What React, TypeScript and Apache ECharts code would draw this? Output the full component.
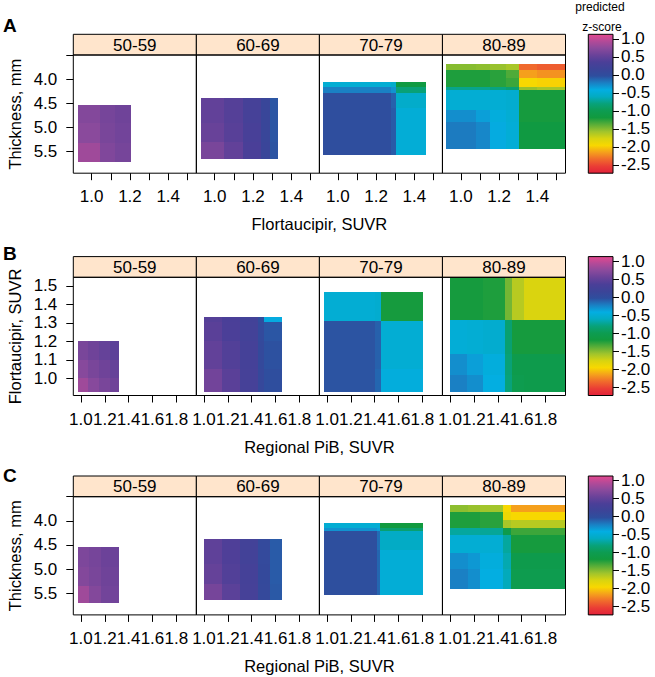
import React, { useEffect, useRef } from "react";
import * as echarts from "echarts";

// ---------- labels ----------
const AGE_GROUPS = ["50-59", "60-69", "70-79", "80-89"];
const ROW_LETTERS = ["A", "B", "C"];
const X_TITLES = ["Flortaucipir, SUVR", "Regional PiB, SUVR", "Regional PiB, SUVR"];
const Y_TITLES = ["Thickness, mm", "Flortaucipir, SUVR", "Thickness, mm"];
const KEY_TITLE = ["predicted", "z-score"];

// ---------- axis ranges & ticks ----------
const TAU_X_RANGE = [0.904, 1.547];
const PIB_RANGE = [0.936, 1.968];
const THICK_RANGE = [3.5, 5.95];
const TAU_Y_RANGE = [0.908, 1.547];
const Z_RANGE = [-2.73, 1.13];

const TAU_X_TICKS = [1.0, 1.1, 1.2, 1.3, 1.4, 1.5];
const TAU_X_LABELS = [1.0, 1.2, 1.4];
const PIB_TICKS = [1.0, 1.2, 1.4, 1.6, 1.8];
const THICK_TICKS = [3.5, 4.0, 4.5, 5.0, 5.5];
const THICK_LABELS = [4.0, 4.5, 5.0, 5.5];
const TAU_Y_TICKS = [1.0, 1.1, 1.2, 1.3, 1.4, 1.5];
const Z_TICKS = [-2.5, -2.0, -1.5, -1.0, -0.5, 0.0, 0.5, 1.0];

const Z_COLORS = [
  "#e2213a", "#ea3d35", "#f06a2c", "#f5a01c", "#f8d800", "#d8d410", "#a0c42c",
  "#5aae38", "#119a3e", "#0d9c52", "#08a27a", "#03abc0", "#03aee2", "#1a80c4",
  "#2e4e9e", "#3c4498", "#4b3f98", "#6a4299", "#8b4a9c", "#b34a98", "#e4488f",
];

// ---------- panel data: cell edges (x, y) and predicted z-score per cell ----------
// Row A: thickness vs flortaucipir
const A1_X = [0.927, 1.043, 1.12, 1.204];
const A1_Y = [4.544, 4.9, 5.33, 5.72];
const A1_Z = [
  [0.70, 0.62, 0.58],
  [0.74, 0.64, 0.60],
  [0.84, 0.68, 0.62],
];
const A2_X = [0.929, 1.05, 1.15, 1.24, 1.29, 1.332];
const A2_Y = [4.39, 4.9, 5.3, 5.65];
const A2_Z = [
  [0.50, 0.42, 0.30, 0.12, -0.06],
  [0.54, 0.44, 0.32, 0.13, -0.06],
  [0.64, 0.50, 0.34, 0.14, -0.05],
];
const A3_X = [0.924, 1.28, 1.306, 1.462];
const A3_Y = [4.06, 4.17, 4.28, 4.6, 5.57];
const A3_Z = [
  [-0.50, -0.55, -1.15],
  [-0.22, -0.30, -0.82],
  [-0.02, -0.10, -0.55],
  [-0.02, -0.08, -0.48],
];
const A4_X = [0.922, 1.08, 1.151, 1.238, 1.302, 1.40, 1.547];
const A4_Y = [3.69, 3.81, 3.98, 4.16, 4.23, 4.64, 4.88, 5.44];
const A4_Z = [
  [-1.50, -1.52, -1.55, -1.60, -2.35, -2.40],
  [-1.22, -1.22, -1.25, -1.35, -2.15, -2.20],
  [-1.22, -1.22, -1.25, -1.30, -1.95, -1.98],
  [-0.75, -0.75, -0.78, -0.85, -1.55, -1.60],
  [-0.50, -0.50, -0.50, -0.52, -1.20, -1.20],
  [-0.28, -0.35, -0.45, -0.50, -1.20, -1.20],
  [-0.20, -0.25, -0.40, -0.48, -1.15, -1.15],
];

// Row B: flortaucipir vs regional PiB
const B1_X = [0.978, 1.06, 1.15, 1.24, 1.321];
const B1_Y = [0.925, 1.0, 1.1, 1.204];
const B1_Z = [
  [0.84, 0.72, 0.64, 0.58],
  [0.72, 0.64, 0.58, 0.52],
  [0.64, 0.58, 0.52, 0.46],
];
const B2_X = [0.999, 1.15, 1.30, 1.45, 1.50, 1.657];
const B2_Y = [0.929, 1.05, 1.2, 1.307, 1.334];
const B2_Z = [
  [0.60, 0.45, 0.30, 0.08, -0.02],
  [0.50, 0.40, 0.28, 0.06, -0.04],
  [0.45, 0.36, 0.26, 0.04, -0.06],
  [0.42, 0.34, 0.24, 0.00, -0.40],
];
const B3_X = [0.976, 1.40, 1.456, 1.805];
const B3_Y = [0.925, 1.05, 1.311, 1.468];
const B3_Z = [
  [-0.05, -0.12, -0.45],
  [-0.05, -0.10, -0.50],
  [-0.50, -0.52, -1.20],
];
const B4_X = [0.999, 1.14, 1.275, 1.459, 1.52, 1.62, 1.968];
const B4_Y = [0.925, 1.02, 1.13, 1.315, 1.547];
const B4_Z = [
  [-0.22, -0.28, -0.42, -0.80, -1.02, -1.05],
  [-0.28, -0.35, -0.45, -0.82, -1.05, -1.05],
  [-0.48, -0.50, -0.52, -0.85, -1.20, -1.20],
  [-1.20, -1.20, -1.22, -1.45, -1.65, -1.78],
];

// Row C: thickness vs regional PiB
const C1_X = [0.978, 1.07, 1.17, 1.321];
const C1_Y = [4.533, 4.95, 5.35, 5.70];
const C1_Z = [
  [0.66, 0.62, 0.56],
  [0.70, 0.64, 0.58],
  [0.84, 0.70, 0.60],
];
const C2_X = [0.999, 1.15, 1.30, 1.45, 1.55, 1.657];
const C2_Y = [4.374, 4.9, 5.3, 5.634];
const C2_Z = [
  [0.48, 0.38, 0.26, 0.05, -0.08],
  [0.52, 0.40, 0.28, 0.06, -0.08],
  [0.62, 0.46, 0.30, 0.07, -0.07],
];
const C3_X = [0.976, 1.42, 1.448, 1.805];
const C3_Y = [4.05, 4.15, 4.22, 4.6, 5.545];
const C3_Z = [
  [-0.50, -0.50, -1.18],
  [-0.30, -0.35, -0.85],
  [-0.03, -0.15, -0.58],
  [-0.03, -0.12, -0.48],
];
const C4_X = [0.999, 1.15, 1.25, 1.445, 1.515, 1.968];
const C4_Y = [3.67, 3.81, 3.98, 4.15, 4.29, 4.67, 5.0, 5.41];
const C4_Z = [
  [-1.52, -1.55, -1.58, -1.95, -2.15],
  [-1.22, -1.22, -1.25, -1.90, -1.95],
  [-1.22, -1.22, -1.25, -1.60, -1.65],
  [-0.70, -0.70, -0.72, -1.05, -1.30],
  [-0.50, -0.50, -0.50, -0.70, -1.20],
  [-0.28, -0.32, -0.45, -0.65, -1.05],
  [-0.22, -0.28, -0.42, -0.62, -1.02],
];

const PANELS = [
  [[A1_X, A1_Y, A1_Z], [A2_X, A2_Y, A2_Z], [A3_X, A3_Y, A3_Z], [A4_X, A4_Y, A4_Z]],
  [[B1_X, B1_Y, B1_Z], [B2_X, B2_Y, B2_Z], [B3_X, B3_Y, B3_Z], [B4_X, B4_Y, B4_Z]],
  [[C1_X, C1_Y, C1_Z], [C2_X, C2_Y, C2_Z], [C3_X, C3_Y, C3_Z], [C4_X, C4_Y, C4_Z]],
];

// ---------- layout ----------
const FONT = "'Liberation Sans', Arial, Helvetica, sans-serif";
const PANEL_LEFT = 73.3;
const PANEL_W = 123.05;
const PANEL_TOPS = [55, 277.3, 496.7];
const PANEL_H = 118.2;
const STRIP_H = 20.7;
const KEY_LEFT = 588.3;
const KEY_W = 24.7;
const LETTER_Y = [25, 253.3, 475];

function cells(xs: number[], ys: number[], zs: number[][]) {
  const out: number[][] = [];
  for (let j = 0; j < ys.length - 1; j++) {
    for (let i = 0; i < xs.length - 1; i++) {
      out.push([xs[i], xs[i + 1], ys[j], ys[j + 1], zs[j][i]]);
    }
  }
  return out;
}

const fmt = (v: number) => Number(v).toFixed(1);

function renderCell(params: any, api: any) {
  const p0 = api.coord([api.value(0), api.value(2)]);
  const p1 = api.coord([api.value(1), api.value(3)]);
  const cs = params.coordSys;
  const gx0 = cs.x, gx1 = cs.x + cs.width, gy0 = cs.y, gy1 = cs.y + cs.height;
  const clampX = (v: number) => Math.round(Math.max(gx0, Math.min(gx1, v)));
  const clampY = (v: number) => Math.round(Math.max(gy0, Math.min(gy1, v)));
  const x0 = clampX(Math.min(p0[0], p1[0]));
  const x1 = clampX(Math.max(p0[0], p1[0]));
  const y0 = clampY(Math.min(p0[1], p1[1]));
  const y1 = clampY(Math.max(p0[1], p1[1]));
  if (x1 <= x0 || y1 <= y0) return null;
  const color = api.visual("color");
  return {
    type: "rect",
    shape: { x: x0, y: y0, width: x1 - x0, height: y1 - y0 },
    style: { fill: color },
  };
}

function renderKey(params: any, api: any) {
  const p0 = api.coord([api.value(0), api.value(2)]);
  const p1 = api.coord([api.value(1), api.value(3)]);
  const stops = Z_COLORS.map((c, i) => ({ offset: i / (Z_COLORS.length - 1), color: c }));
  return {
    type: "rect",
    shape: {
      x: Math.min(p0[0], p1[0]),
      y: Math.min(p0[1], p1[1]),
      width: Math.abs(p1[0] - p0[0]),
      height: Math.abs(p1[1] - p0[1]),
    },
    style: {
      fill: new echarts.graphic.LinearGradient(0, 1, 0, 0, stops),
      stroke: "#000",
      lineWidth: 1,
    },
  };
}

function buildOption() {
  const grids: any[] = [];
  const xAxes: any[] = [];
  const yAxes: any[] = [];
  const series: any[] = [];
  const graphics: any[] = [];
  const heatIdx: number[] = [];

  const xRanges = [TAU_X_RANGE, PIB_RANGE, PIB_RANGE];
  const xTicks = [TAU_X_TICKS, PIB_TICKS, PIB_TICKS];
  const xLabels = [TAU_X_LABELS, PIB_TICKS, PIB_TICKS];
  const yRanges = [THICK_RANGE, TAU_Y_RANGE, THICK_RANGE];
  const yTicks = [THICK_TICKS, TAU_Y_TICKS, THICK_TICKS];
  const yLabels = [THICK_LABELS, TAU_Y_TICKS, THICK_LABELS];
  const yInverse = [true, false, true];

  PANELS.forEach((row, r) => {
    const top = PANEL_TOPS[r];
    row.forEach((p, c) => {
      const gi = grids.length;
      const left = PANEL_LEFT + c * PANEL_W;
      grids.push({ left, top, width: PANEL_W, height: PANEL_H, show: false });
      xAxes.push({
        gridIndex: gi,
        type: "value",
        min: xRanges[r][0],
        max: xRanges[r][1],
        axisLine: { show: false, onZero: false },
        splitLine: { show: false },
        axisTick: { show: true, length: 7, customValues: xTicks[r], lineStyle: { color: "#000", width: 1 } },
        axisLabel: {
          show: true,
          customValues: xLabels[r],
          margin: 15,
          fontSize: 17,
          color: "#000",
          fontFamily: FONT,
          formatter: fmt,
        },
      });
      yAxes.push({
        gridIndex: gi,
        type: "value",
        inverse: yInverse[r],
        min: yRanges[r][0],
        max: yRanges[r][1],
        axisLine: { show: false, onZero: false },
        splitLine: { show: false },
        axisTick: {
          show: c === 0,
          length: 7,
          customValues: yTicks[r],
          lineStyle: { color: "#000", width: 1 },
        },
        axisLabel: {
          show: c === 0,
          customValues: yLabels[r],
          margin: 16,
          fontSize: 17,
          color: "#000",
          fontFamily: FONT,
          formatter: fmt,
        },
      });
      heatIdx.push(series.length);
      series.push({
        type: "custom",
        coordinateSystem: "cartesian2d",
        xAxisIndex: gi,
        yAxisIndex: gi,
        renderItem: renderCell,
        encode: { x: [0, 1], y: [2, 3] },
        data: cells(p[0] as number[], p[1] as number[], p[2] as number[][]),
        silent: true,
      });
      // strip
      graphics.push({
        type: "rect",
        z: 100,
        shape: { x: left, y: top - STRIP_H, width: PANEL_W, height: STRIP_H },
        style: { fill: "#ffe5cc", stroke: "#000", lineWidth: 1 },
      });
      graphics.push({
        type: "text",
        z: 101,
        x: left + PANEL_W / 2,
        y: top - STRIP_H / 2 + 0.5,
        style: {
          text: AGE_GROUPS[c],
          fontSize: 17,
          fontFamily: FONT,
          fill: "#000",
          align: "center",
          verticalAlign: "middle",
        },
      });
      // frame
      graphics.push({
        type: "rect",
        z: 100,
        shape: { x: left, y: top, width: PANEL_W, height: PANEL_H },
        style: { fill: "none", stroke: "#000", lineWidth: 1 },
      });
    });

    // colour key for this row
    const gi = grids.length;
    const keyTop = top - STRIP_H;
    grids.push({ left: KEY_LEFT, top: keyTop, width: KEY_W, height: PANEL_H + STRIP_H, show: false });
    xAxes.push({ gridIndex: gi, type: "value", min: 0, max: 1, show: false });
    yAxes.push({
      gridIndex: gi,
      type: "value",
      position: "right",
      min: Z_RANGE[0],
      max: Z_RANGE[1],
      axisLine: { show: false, onZero: false },
      splitLine: { show: false },
      axisTick: { show: true, length: 6, customValues: Z_TICKS, lineStyle: { color: "#000", width: 1 } },
      axisLabel: {
        show: true,
        customValues: Z_TICKS,
        margin: 8,
        fontSize: 17,
        color: "#000",
        fontFamily: FONT,
        formatter: fmt,
      },
    });
    series.push({
      type: "custom",
      coordinateSystem: "cartesian2d",
      xAxisIndex: gi,
      yAxisIndex: gi,
      renderItem: renderKey,
      encode: { x: [0, 1], y: [2, 3] },
      data: [[0, 1, Z_RANGE[0], Z_RANGE[1]]],
      silent: true,
    });

    // row letter, axis titles
    graphics.push({
      type: "text",
      x: 3,
      y: LETTER_Y[r],
      style: {
        text: ROW_LETTERS[r],
        fontSize: 19,
        fontWeight: "bold",
        fontFamily: FONT,
        fill: "#000",
        align: "left",
        verticalAlign: "middle",
      },
    });
    graphics.push({
      type: "text",
      x: PANEL_LEFT + 2 * PANEL_W,
      y: top + PANEL_H + 51,
      style: {
        text: X_TITLES[r],
        fontSize: 16.5,
        fontFamily: FONT,
        fill: "#000",
        align: "center",
        verticalAlign: "middle",
      },
    });
    graphics.push({
      type: "text",
      x: 15,
      y: top + PANEL_H / 2,
      rotation: Math.PI / 2,
      style: {
        text: Y_TITLES[r],
        fontSize: 16.5,
        fontFamily: FONT,
        fill: "#000",
        align: "center",
        verticalAlign: "middle",
      },
    });
  });

  graphics.push({
    type: "text",
    x: 600,
    y: 7,
    style: { text: KEY_TITLE[0], fontSize: 12, fontFamily: FONT, fill: "#000", align: "center", verticalAlign: "middle" },
  });
  graphics.push({
    type: "text",
    x: 602,
    y: 27,
    style: { text: KEY_TITLE[1], fontSize: 12, fontFamily: FONT, fill: "#000", align: "center", verticalAlign: "middle" },
  });

  return {
    animation: false,
    backgroundColor: "#fff",
    textStyle: { fontFamily: FONT },
    grid: grids,
    xAxis: xAxes,
    yAxis: yAxes,
    visualMap: {
      type: "continuous",
      show: false,
      min: Z_RANGE[0],
      max: Z_RANGE[1],
      dimension: 4,
      seriesIndex: heatIdx,
      inRange: { color: Z_COLORS },
    },
    series,
    graphic: graphics,
  };
}

export default function App() {
  const ref = useRef<HTMLDivElement>(null);
  useEffect(() => {
    if (!ref.current) return;
    const chart = echarts.init(ref.current, undefined, { renderer: "svg" });
    chart.setOption(buildOption() as any);
    return () => chart.dispose();
  }, []);
  return (
    <div
      ref={ref}
      style={{ position: "absolute", left: 0, top: 0, width: 655, height: 677 }}
    />
  );
}
